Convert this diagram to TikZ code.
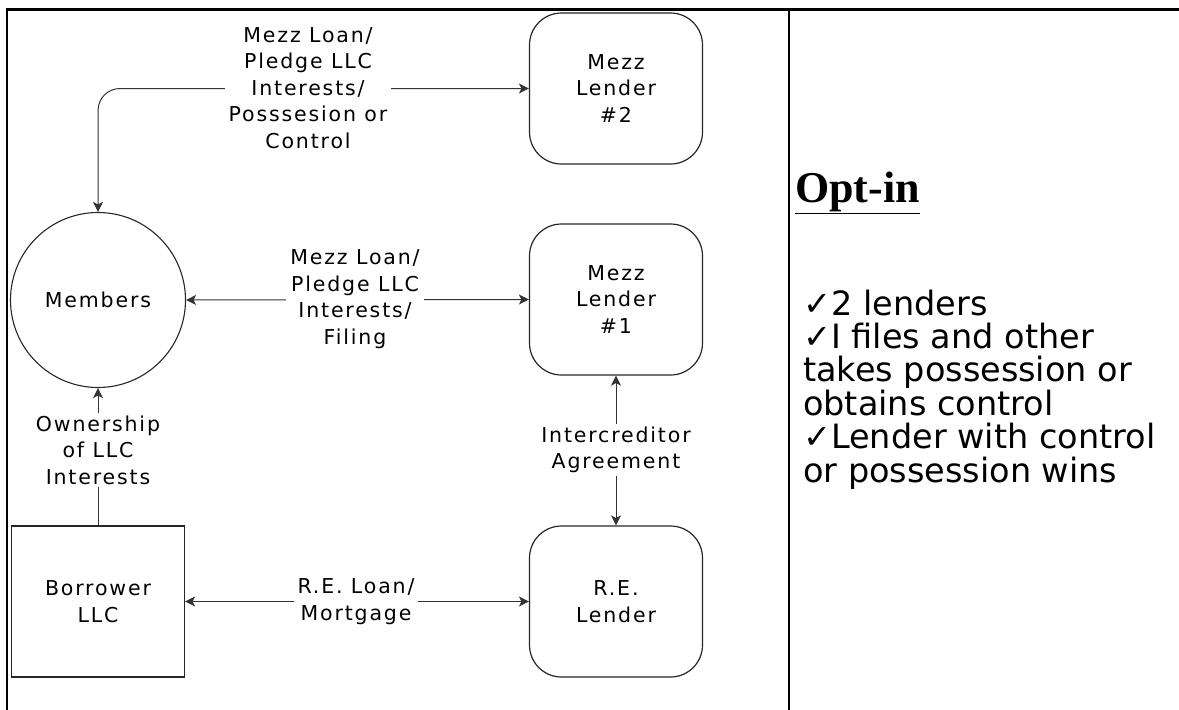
\documentclass[tikz,border=0pt]{standalone}
\usepackage{fontspec}
\usetikzlibrary{arrows.meta}
\newfontfamily\labfont[LetterSpace=9]{DejaVu Sans}
\newfontfamily\rtfont{DejaVu Sans}
\newfontfamily\optfont{Liberation Serif}
\begin{document}
\begin{tikzpicture}[x=1pt,y=-1pt,
  >={Stealth[length=10pt,width=10pt,inset=2.5pt]},
  txt/.style={font=\labfont\fontsize{20.5}{26.5}\selectfont, align=center},
  box/.style={txt, draw=black!85, line width=1.2pt, minimum width=173pt, minimum height=151pt, inner sep=0pt},
  rbox/.style={box, rounded corners=32pt},
  conn/.style={draw=black!80, line width=1pt},
  lbl/.style={txt, fill=white, inner xsep=4pt, inner ysep=3pt},
  frame/.style={line width=2.4pt, draw=black},
  rt/.style={font=\rtfont\fontsize{33.5}{33.4}\selectfont, anchor=base west, inner sep=0pt}
]
\useasboundingbox (0,0) rectangle (1179,710);
% frame
\draw[frame] (5.6,9.5) -- (1179,9.5);
\draw[frame] (6.8,8.3) -- (6.8,710);
\draw[frame] (789,8.3) -- (789,710);
% nodes
\node[rbox] (m2) at (616,88.5) {Mezz\\Lender\\\#2};
\node[rbox] (m1) at (616,299.5) {Mezz\\Lender\\\#1};
\node[rbox] (re) at (616,601.5) {R.E.\\Lender};
\node[box] (bor) at (98,601.5) {Borrower\\LLC};
\node[txt, draw=black!85, line width=1.1pt, circle, minimum size=175pt, inner sep=0pt] (mem) at (98,300) {Members};
% connectors
\draw[conn,<->,rounded corners=22pt] (mem.north) |- (m2.west);
\draw[conn,<->] (mem.east) -- (m1.west);
\draw[conn,<->] (m1.south) -- (re.north);
\draw[conn,<->] (bor.east) -- (re.west);
\draw[conn,->] (bor.north) -- (mem.south);
% labels
\node[lbl] (l2) at (308,88) {Mezz Loan/\\Pledge LLC\\Interests/\\Posssesion or\\Control};
\node[lbl] (l1) at (355,299) {Mezz Loan/\\Pledge LLC\\Interests/\\Filing};
\node[lbl] (lic) at (616,450) {Intercreditor\\Agreement};
\node[lbl] (low) at (98,450) {Ownership\\of LLC\\Interests};
\node[lbl] (lre) at (356,601.5) {R.E. Loan/\\Mortgage};
% right panel
\node[anchor=base west, inner sep=0pt, font=\optfont\bfseries\fontsize{44}{44}\selectfont] (opt) at (795,202) {\underline{Opt-in}};
\node[rt] (r1) at (803,315) {✓2 lenders};
\node[rt] (r2) at (803,348.4) {✓I files and other};
\node[rt] (r3) at (803,381.8) {takes possession or};
\node[rt] (r4) at (803,415.2) {obtains control};
\node[rt] (r5) at (803,448.6) {✓Lender with control};
\node[rt] (r6) at (803,482) {or possession wins};
\end{tikzpicture}
\end{document}
